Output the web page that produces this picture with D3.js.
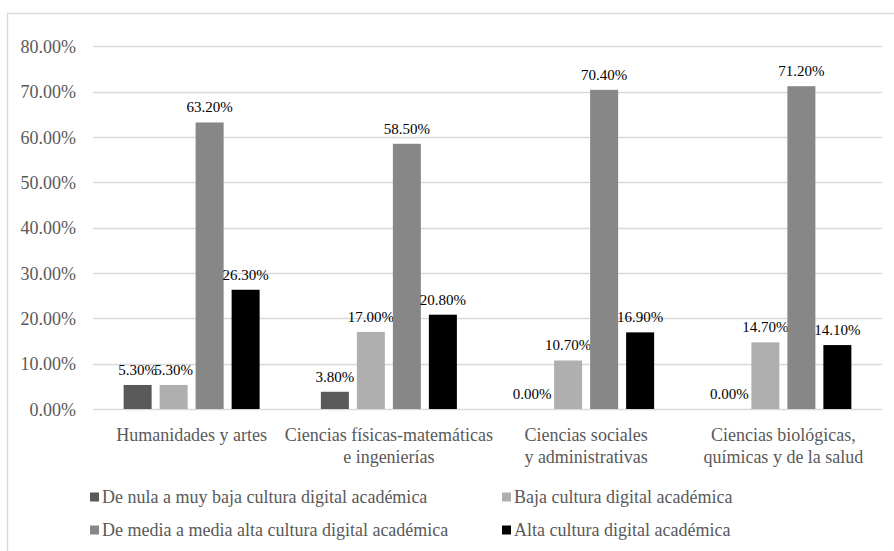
<!DOCTYPE html>
<html><head><meta charset="utf-8">
<script src="https://cdn.jsdelivr.net/npm/d3@7"></script>
<style>body{margin:0;background:#fff}svg{display:block}
text{font-family:"Liberation Serif","DejaVu Serif","Noto Serif",serif;}</style>
</head><body>
<svg id="c" width="894" height="551"></svg>
<script>
const categories = [["Humanidades y artes"],["Ciencias físicas-matemáticas","e ingenierías"],["Ciencias sociales","y administrativas"],["Ciencias biológicas,","químicas y de la salud"]];
const seriesNames = ["De nula a muy baja cultura digital académica","Baja cultura digital académica","De media a media alta cultura digital académica","Alta cultura digital académica"];
const nulaMuyBaja = [5.3, 3.8, 0.0, 0.0];
const baja = [5.3, 17.0, 10.7, 14.7];
const mediaAlta = [63.2, 58.5, 70.4, 71.2];
const alta = [26.3, 20.8, 16.9, 14.1];
const yTicks = [0,10,20,30,40,50,60,70,80];
const colors = ["#595959","#afafaf","#878787","#000000"];
const series = [nulaMuyBaja, baja, mediaAlta, alta];

const svg = d3.select("#c");
// chart border
svg.append("rect").attr("x",7.5).attr("y",13.5).attr("width",1000).attr("height",1000)
  .attr("fill","none").attr("stroke","#d9d9d9").attr("stroke-width",1.5);

const L=93, R=882, T=46.3, B=409;
const x = d3.scaleBand().domain(d3.range(4)).range([L,R]);
const y = d3.scaleLinear().domain([0,80]).range([B,T]);
const barW = 28, step = 36;

// gridlines
svg.append("g").selectAll("line").data(yTicks).join("line")
  .attr("x1",L).attr("x2",R).attr("y1",d=>Math.round(y(d))+0.5).attr("y2",d=>Math.round(y(d))+0.5)
  .attr("stroke","#d9d9d9").attr("stroke-width",1.3);

// y axis labels
const yAxis = d3.axisLeft(y).tickValues(yTicks).tickSize(0).tickPadding(0).tickFormat(d=>d.toFixed(2)+"%");
const gy = svg.append("g").attr("transform","translate(76,0)").call(yAxis);
gy.select(".domain").remove();
gy.attr("font-family",null).attr("font-size",null);
gy.selectAll("text").attr("font-size",18).attr("fill","#595959").attr("dy","0.35em");

// bars
series.forEach((vals,si)=>{
  const g = svg.append("g");
  g.selectAll("rect").data(vals).join("rect")
    .attr("x",(d,i)=>x(i)+x.bandwidth()/2 - (1.5*step) + si*step - barW/2)
    .attr("y",d=>y(d)).attr("width",barW).attr("height",d=>B-y(d))
    .attr("fill",colors[si]);
  g.selectAll("text").data(vals).join("text")
    .attr("x",(d,i)=>x(i)+x.bandwidth()/2 - (1.5*step) + si*step)
    .attr("y",d=>y(d)-10)
    .attr("text-anchor","middle").attr("font-size",15).attr("fill","#000")
    .text(d=>d.toFixed(2)+"%");
});

// category labels
const cg = svg.append("g");
categories.forEach((lines,i)=>{
  const cx = x(i)+x.bandwidth()/2;
  const t = cg.append("text").attr("x",cx).attr("y",441)
    .attr("text-anchor","middle").attr("font-size",18).attr("fill","#595959");
  lines.forEach((ln,j)=>t.append("tspan").attr("x",cx).attr("dy",j?22:0).text(ln));
});

// legend
const legPos = [[90,497],[502,497],[90,530],[502,530]];
seriesNames.forEach((n,i)=>{
  const [lx,ly]=legPos[i];
  svg.append("rect").attr("x",lx).attr("y",ly-4.5).attr("width",9).attr("height",9).attr("fill",colors[i]);
  svg.append("text").attr("x",lx+12).attr("y",ly+6).attr("font-size",18)
    .attr("fill","#595959").text(n);
});
</script>
</body></html>
